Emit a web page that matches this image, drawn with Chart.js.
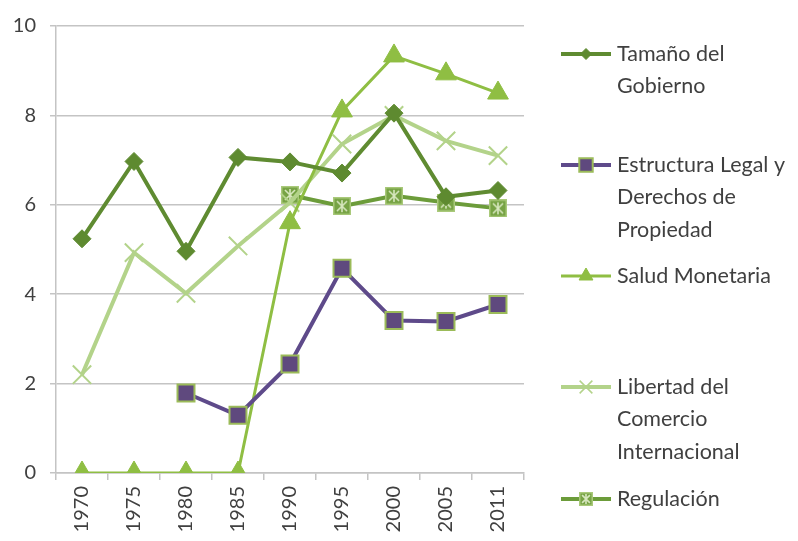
<!DOCTYPE html>
<html>
<head>
<meta charset="utf-8">
<script src="https://cdn.jsdelivr.net/npm/chart.js@4.4.1/dist/chart.umd.min.js"></script>
<style>
  html, body { margin: 0; padding: 0; background: #fff; }
  #wrap { width: 798px; height: 541px; }
</style>
</head>
<body>
<div id="wrap"><canvas id="chart" width="798" height="541"></canvas></div>
<script>
// categories and series
const years = ['1970', '1975', '1980', '1985', '1990', '1995', '2000', '2005', '2011'];
const tamanoGobierno = [5.24, 6.97, 4.96, 7.06, 6.96, 6.71, 8.05, 6.18, 6.32];
const estructuraLegal = [null, null, 1.79, 1.29, 2.44, 4.58, 3.41, 3.39, 3.77];
const saludMonetaria = [0, 0, 0, 0, 5.6, 8.1, 9.33, 8.93, 8.5];
const libertadComercio = [2.2, 4.93, 4.02, 5.08, 6.05, 7.36, 8.0, 7.43, 7.1];
const regulacion = [null, null, null, null, 6.22, 5.97, 6.2, 6.05, 5.92];
const seriesNames = [
  ['Tamaño del', 'Gobierno'],
  ['Estructura Legal y', 'Derechos de', 'Propiedad'],
  ['Salud Monetaria'],
  ['Libertad del', 'Comercio', 'Internacional'],
  ['Regulación']
];
const yTicks = [0, 2, 4, 6, 8, 10];

const FONT = 'Lato, "Open Sans", sans-serif';
const TEXT = '#404040';

// square marker with an asterisk inside (Regulación)
function regMarker(size) {
  const c = document.createElement('canvas');
  c.width = size; c.height = size;
  const g = c.getContext('2d');
  g.fillStyle = '#77a345';
  g.fillRect(0, 0, size, size);
  g.strokeStyle = '#a9c97a';
  g.lineWidth = 1.5;
  g.strokeRect(0.75, 0.75, size - 1.5, size - 1.5);
  g.strokeStyle = '#d6e6bd';
  g.lineWidth = 1.6;
  const m = size * 0.22;
  g.beginPath();
  g.moveTo(m, m); g.lineTo(size - m, size - m);
  g.moveTo(size - m, m); g.lineTo(m, size - m);
  g.moveTo(size / 2, m - 1); g.lineTo(size / 2, size - m + 1);
  g.stroke();
  return c;
}
const regBig = regMarker(18);
const regSmall = regMarker(14);

// legend drawn at the right, Excel style
const legendPlugin = {
  id: 'sideLegend',
  afterDraw(chart) {
    const ctx = chart.ctx;
    const rows = [54, 165, 276, 387, 499];
    const lineH = 32.5;
    const x0 = 561, x1 = 611;
    ctx.save();
    chart.data.datasets.forEach((ds, i) => {
      const y = rows[i];
      ctx.strokeStyle = ds.borderColor;
      ctx.lineWidth = ds.borderWidth;
      ctx.beginPath();
      ctx.moveTo(x0, y);
      ctx.lineTo(x1, y);
      ctx.stroke();
      const style = ds.legendStyle || ds.pointStyle;
      ctx.fillStyle = ds.pointBackgroundColor;
      ctx.strokeStyle = ds.pointBorderColor;
      ctx.lineWidth = ds.legendBorderWidth || ds.pointBorderWidth;
      Chart.helpers.drawPoint(ctx, {
        pointStyle: style,
        radius: ds.legendRadius,
        rotation: 0,
        borderWidth: ctx.lineWidth
      }, (x0 + x1) / 2, y);
      ctx.fillStyle = TEXT;
      ctx.font = '21.5px ' + FONT;
      ctx.textBaseline = 'middle';
      ctx.textAlign = 'left';
      seriesNames[i].forEach((t, k) => ctx.fillText(t, 617, y + k * lineH));
    });
    ctx.restore();
  }
};

new Chart(document.getElementById('chart'), {
  type: 'line',
  data: {
    labels: years,
    datasets: [
      {
        data: tamanoGobierno,
        borderColor: '#5f8b31',
        borderWidth: 4,
        pointStyle: 'rectRot',
        pointRadius: 9,
        legendRadius: 5.5,
        pointBackgroundColor: '#5e8a30',
        pointBorderColor: '#5e8a30',
        pointBorderWidth: 1
      },
      {
        data: estructuraLegal,
        borderColor: '#5e4a8a',
        borderWidth: 4,
        pointStyle: 'rect',
        pointRadius: 12,
        legendRadius: 9.5,
        pointBackgroundColor: '#5f497e',
        pointBorderColor: '#9bbb59',
        pointBorderWidth: 2
      },
      {
        data: saludMonetaria,
        borderColor: '#8fbe43',
        borderWidth: 3,
        pointStyle: 'triangle',
        pointRadius: 12,
        legendRadius: 8,
        pointBackgroundColor: '#8fbe43',
        pointBorderColor: '#8fbe43',
        pointBorderWidth: 1
      },
      {
        data: libertadComercio,
        borderColor: '#b3d38a',
        borderWidth: 4,
        pointStyle: 'crossRot',
        pointRadius: 13,
        legendRadius: 9,
        legendBorderWidth: 1.5,
        pointBackgroundColor: '#b3d38a',
        pointBorderColor: '#b3d38a',
        pointBorderWidth: 2
      },
      {
        data: regulacion,
        borderColor: '#6c9c3a',
        borderWidth: 4,
        pointStyle: regBig,
        legendStyle: regSmall,
        pointRadius: 9,
        legendRadius: 7,
        pointBackgroundColor: '#77a345',
        pointBorderColor: '#77a345',
        pointBorderWidth: 1
      }
    ]
  },
  options: {
    responsive: false,
    animation: false,
    layout: { padding: { top: 21, right: 274, left: 0, bottom: 0 } },
    plugins: { legend: { display: false }, tooltip: { enabled: false } },
    elements: { line: { tension: 0 } },
    scales: {
      x: {
        offset: true,
        grid: { offset: true, drawOnChartArea: false, tickLength: 7, color: '#c4c4c4', lineWidth: 1.5 },
        border: { color: '#c4c4c4', width: 1.5 },
        ticks: { color: TEXT, font: { family: FONT, size: 20 }, minRotation: 90, maxRotation: 90, padding: 6 },
        afterFit(s) { s.height = 68; }
      },
      y: {
        min: 0,
        max: 10,
        afterBuildTicks(s) { s.ticks = yTicks.map(v => ({ value: v })); },
        grid: { color: '#c4c4c4', lineWidth: 1.5, tickLength: 6 },
        border: { color: '#c4c4c4', width: 1.5 },
        ticks: { color: TEXT, font: { family: FONT, size: 20 }, padding: 14 },
        afterFit(s) { s.width = 56; }
      }
    }
  },
  plugins: [legendPlugin]
});
</script>
</body>
</html>
